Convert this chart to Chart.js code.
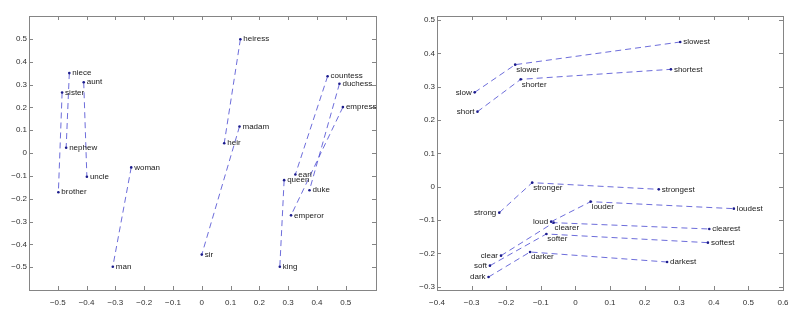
<!DOCTYPE html>
<html>
<head>
<meta charset="utf-8">
<script src="https://cdn.jsdelivr.net/npm/chart.js@4/dist/chart.umd.min.js"></script>
<style>
  body { margin: 0; background: #fff; }
  canvas { position: absolute; top: 0; }
  #leftChart { left: 0; }
  #rightChart { left: 400px; }
</style>
</head>
<body>
<canvas id="leftChart" width="400" height="309"></canvas>
<canvas id="rightChart" width="400" height="309"></canvas>
<script>
// 左图：性别词对
const femaleWords = ['niece', 'aunt', 'sister', 'woman', 'heiress', 'madam', 'countess', 'duchess', 'empress', 'queen'];
const femaleX = [-0.46, -0.41, -0.485, -0.245, 0.134, 0.131, 0.437, 0.478, 0.49, 0.286];
const femaleY = [0.35, 0.31, 0.265, -0.063, 0.498, 0.116, 0.336, 0.303, 0.201, -0.119];
const maleWords = ['nephew', 'uncle', 'brother', 'man', 'heir', 'sir', 'earl', 'duke', 'emperor', 'king'];
const maleX = [-0.471, -0.399, -0.498, -0.309, 0.078, 0.0, 0.325, 0.374, 0.31, 0.271];
const maleY = [0.023, -0.104, -0.172, -0.498, 0.043, -0.445, -0.094, -0.163, -0.273, -0.498];

// 右图：原级 / 比较级 / 最高级
const baseWords = ['slow', 'short', 'strong', 'loud', 'clear', 'soft', 'dark'];
const baseX = [-0.291, -0.283, -0.22, -0.07, -0.215, -0.247, -0.251];
const baseY = [0.283, 0.225, -0.078, -0.105, -0.207, -0.237, -0.271];
const compWords = ['slower', 'shorter', 'stronger', 'louder', 'clearer', 'softer', 'darker'];
const compX = [-0.174, -0.158, -0.125, 0.044, -0.063, -0.084, -0.131];
const compY = [0.366, 0.322, 0.012, -0.045, -0.108, -0.142, -0.196];
const supWords = ['slowest', 'shortest', 'strongest', 'loudest', 'clearest', 'softest', 'darkest'];
const supX = [0.303, 0.276, 0.241, 0.458, 0.387, 0.383, 0.265];
const supY = [0.434, 0.352, -0.008, -0.066, -0.127, -0.168, -0.226];

// 刻度
const leftXTicks = [-0.5, -0.4, -0.3, -0.2, -0.1, 0, 0.1, 0.2, 0.3, 0.4, 0.5];
const leftYTicks = [-0.5, -0.4, -0.3, -0.2, -0.1, 0, 0.1, 0.2, 0.3, 0.4, 0.5];
const rightXTicks = [-0.4, -0.3, -0.2, -0.1, 0, 0.1, 0.2, 0.3, 0.4, 0.5, 0.6];
const rightYTicks = [-0.3, -0.2, -0.1, 0, 0.1, 0.2, 0.3, 0.4, 0.5];

const FONT = '"Liberation Sans", Arial, Helvetica, sans-serif';
const LINE_COLOR = 'rgba(60, 60, 205, 0.75)';
const DOT_COLOR = '#1c1c8c';

function fmt(v) {
    if (Math.abs(v) < 1e-9) return '0';
    return v.toFixed(1).replace('-', '\u2212');
}

function makeDataset(words, xs, ys) {
    return {
        words: words,
        data: xs.map((x, i) => ({ x: x, y: ys[i] })),
        showLine: true,
        borderColor: LINE_COLOR,
        borderWidth: 1,
        borderDash: [6, 4],
        pointRadius: 1.3,
        pointBackgroundColor: DOT_COLOR,
        pointBorderWidth: 0,
        clip: false
    };
}

// Matlab 风格的边框和内侧刻度
const boxPlugin = {
    id: 'box',
    afterDatasetsDraw(chart, args, opts) {
        const ctx = chart.ctx;
        const a = chart.chartArea;
        const xs = chart.scales.x, ys = chart.scales.y;
        ctx.save();
        ctx.strokeStyle = '#858585';
        ctx.lineWidth = 1;
        ctx.strokeRect(Math.round(a.left) + 0.5, Math.round(a.top) + 0.5,
            Math.round(a.right - a.left), Math.round(a.bottom - a.top));
        ctx.beginPath();
        opts.xTicks.forEach(v => {
            const px = Math.round(xs.getPixelForValue(v)) + 0.5;
            ctx.moveTo(px, a.bottom); ctx.lineTo(px, a.bottom - 4);
            ctx.moveTo(px, a.top); ctx.lineTo(px, a.top + 4);
        });
        opts.yTicks.forEach(v => {
            const py = Math.round(ys.getPixelForValue(v)) + 0.5;
            ctx.moveTo(a.left, py); ctx.lineTo(a.left + 4, py);
            ctx.moveTo(a.right, py); ctx.lineTo(a.right - 4, py);
        });
        ctx.stroke();
        ctx.restore();
    }
};

// 词标签
const wordPlugin = {
    id: 'words',
    afterDatasetsDraw(chart, args, opts) {
        const ctx = chart.ctx;
        ctx.save();
        ctx.font = '8px ' + FONT;
        ctx.fillStyle = '#202020';
        ctx.textBaseline = 'middle';
        chart.data.datasets.forEach((ds, di) => {
            const meta = chart.getDatasetMeta(di);
            meta.data.forEach((pt, j) => {
                let dx = 3, dy = 0, align = 'left';
                if (opts.graded) {
                    if (j === 0) { dx = -3; align = 'right'; }
                    else if (j === 1) { dx = 1; dy = 5; }
                }
                ctx.textAlign = align;
                ctx.fillText(ds.words[j], pt.x + dx, pt.y + dy);
            });
        });
        ctx.restore();
    }
};

function makeScale(min, max, ticks, isX, axisSize) {
    return {
        type: 'linear',
        min: min,
        max: max,
        afterBuildTicks: s => { s.ticks = ticks.map(v => ({ value: v })); },
        afterFit: s => { if (isX) s.height = axisSize; else s.width = axisSize; },
        grid: { display: false, drawTicks: false },
        border: { display: false },
        ticks: {
            callback: v => fmt(v),
            font: { family: FONT, size: 8 },
            color: '#303030',
            padding: isX ? 8 : 2,
            maxRotation: 0,
            autoSkip: false
        }
    };
}

function baseOptions(xMin, xMax, yMin, yMax, xTicks, yTicks, yWidth, padRight, graded) {
    return {
        responsive: false,
        animation: false,
        layout: { padding: { top: 16, right: padRight, left: 0, bottom: 0 } },
        plugins: {
            legend: { display: false },
            tooltip: { enabled: false },
            box: { xTicks: xTicks, yTicks: yTicks },
            words: { graded: graded }
        },
        scales: {
            x: makeScale(xMin, xMax, xTicks, true, 19),
            y: makeScale(yMin, yMax, yTicks, false, yWidth)
        }
    };
}

const leftSets = femaleWords.map((w, i) =>
    makeDataset([w, maleWords[i]], [femaleX[i], maleX[i]], [femaleY[i], maleY[i]]));

const rightSets = baseWords.map((w, i) =>
    makeDataset([w, compWords[i], supWords[i]],
        [baseX[i], compX[i], supX[i]],
        [baseY[i], compY[i], supY[i]]));

new Chart(document.getElementById('leftChart').getContext('2d'), {
    type: 'scatter',
    data: { datasets: leftSets },
    options: baseOptions(-0.6, 0.605, -0.6, 0.6, leftXTicks, leftYTicks, 29, 24, false),
    plugins: [boxPlugin, wordPlugin]
});

new Chart(document.getElementById('rightChart').getContext('2d'), {
    type: 'scatter',
    data: { datasets: rightSets },
    options: baseOptions(-0.4, 0.6, -0.31, 0.512, rightXTicks, rightYTicks, 37, 17, true),
    plugins: [boxPlugin, wordPlugin]
});
</script>
</body>
</html>
